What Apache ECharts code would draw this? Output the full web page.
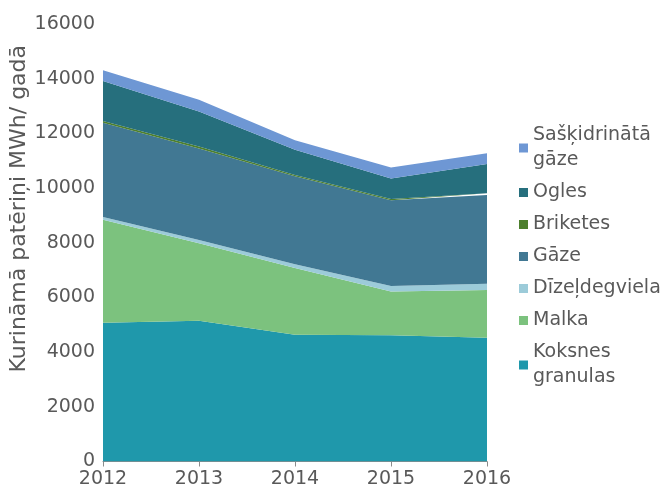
<!DOCTYPE html>
<html lang="lv">
<head>
<meta charset="UTF-8">
<title>Kurināmā patēriņi</title>
<script src="https://cdn.jsdelivr.net/npm/echarts@6/dist/echarts.min.js"></script>
<style>
  html, body { margin: 0; padding: 0; background: #fff; }
  #chart { width: 662px; height: 495px; }
</style>
</head>
<body>
<div id="chart"></div>
<script>
var years = ['2012', '2013', '2014', '2015', '2016']

// apakšā -> augšā (kā sakrauts)
var koksnesGranulas = [5070, 5150, 4640, 4620, 4530]
var malka = [3770, 2830, 2440, 1600, 1740]
var dizelis = [100, 120, 130, 200, 230]
var gaze = [3450, 3350, 3220, 3130, 3250]
var briketes = [60, 70, 50, 50, 60]
var ogles = [1470, 1280, 920, 750, 1070]
var skidraGaze = [390, 430, 350, 400, 390]

var seriesNames = ['Koksnes granulas', 'Malka', 'Dīzeļdegviela', 'Gāze', 'Briketes', 'Ogles', 'Sašķidrinātā gāze']
var seriesData = [koksnesGranulas, malka, dizelis, gaze, briketes, ogles, skidraGaze]
var colors = ['#1f98ab', '#7cc27e', '#9ccbd9', '#417893', '#4d7f2d', '#266f7d', '#6e97d4']

// legendas teksts ar pārnesumiem
var legendLabels = {
    'Sašķidrinātā gāze': 'Sašķidrinātā\ngāze',
    'Koksnes granulas': 'Koksnes\ngranulas'
}

var chart = echarts.init(document.getElementById('chart'))
var font = 'DejaVu Sans'

var series = []
for (var i = 0; i < seriesNames.length; i++) {
    series.push({
        name: seriesNames[i],
        type: 'line',
        stack: 'total',
        data: seriesData[i],
        showSymbol: false,
        symbol: 'none',
        lineStyle: { width: 0 },
        areaStyle: { opacity: 1, color: colors[i] },
        itemStyle: { color: colors[i] }
    })
}

var option = {
    animation: false,
    grid: { left: 103, right: 175, top: 24, bottom: 33.5, containLabel: false, outerBoundsMode: 'none' },
    legend: {
        orient: 'vertical',
        left: 514,
        top: 118,
        itemWidth: 9,
        itemHeight: 9,
        itemGap: 7,
        icon: 'rect',
        data: seriesNames.slice().reverse(),
        formatter: function(name) {
            return legendLabels[name] || name
        },
        textStyle: { fontFamily: font, fontSize: 19, color: '#595959', lineHeight: 25 }
    },
    xAxis: {
        type: 'category',
        data: years,
        boundaryGap: false,
        axisLine: { lineStyle: { color: '#8c8c8c', width: 1 } },
        axisTick: { show: true, length: 5, lineStyle: { color: '#8c8c8c' } },
        axisLabel: { fontFamily: font, fontSize: 19, color: '#595959', margin: 8 }
    },
    yAxis: {
        type: 'value',
        min: 0,
        max: 16000,
        interval: 2000,
        name: 'Kurināmā patēriņi MWh/ gadā',
        nameLocation: 'middle',
        nameGap: 73,
        nameMoveOverlap: false,
        nameTextStyle: { fontFamily: font, fontSize: 22, color: '#595959', padding: [0, 0, 0, 68] },
        axisLine: { show: false },
        axisTick: { show: false },
        splitLine: { show: false },
        axisLabel: {
            fontFamily: font, fontSize: 19, color: '#595959', margin: 8,
            formatter: function(v) { return String(v) }
        }
    },
    series: series
}
chart.setOption(option)
</script>
</body>
</html>
